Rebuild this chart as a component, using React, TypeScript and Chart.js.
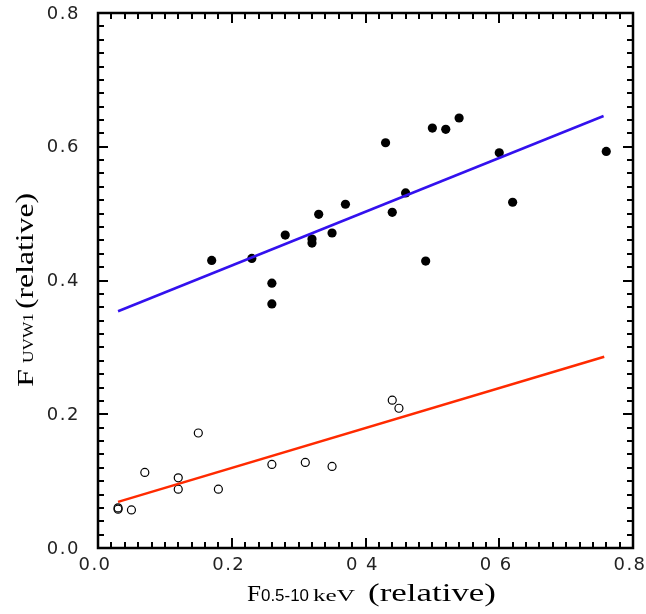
import React, { useEffect, useRef } from "react";
import { Chart, registerables } from "chart.js";

Chart.register(...registerables);

const filledX = [0.17, 0.23, 0.26, 0.26, 0.28, 0.32, 0.32, 0.33, 0.35, 0.37, 0.43, 0.44, 0.46, 0.49, 0.5, 0.52, 0.54, 0.6, 0.62, 0.76];
const filledY = [0.43, 0.433, 0.396, 0.365, 0.468, 0.462, 0.456, 0.499, 0.471, 0.514, 0.606, 0.502, 0.531, 0.429, 0.628, 0.626, 0.643, 0.591, 0.517, 0.593];

const openX = [0.03, 0.03, 0.05, 0.07, 0.12, 0.12, 0.15, 0.18, 0.26, 0.31, 0.35, 0.44, 0.45];
const openY = [0.06, 0.058, 0.057, 0.113, 0.105, 0.088, 0.172, 0.088, 0.125, 0.128, 0.122, 0.221, 0.209];

const blueLineX = [0.03, 0.756];
const blueLineY = [0.354, 0.646];
const redLineX = [0.03, 0.757];
const redLineY = [0.069, 0.286];

const xTickValues = [0, 0.2, 0.4, 0.6, 0.8];
const xTickLabels = ["0.0", "0.2", "0 4", "0 6", "0.8"];
const yTickValues = [0, 0.2, 0.4, 0.6, 0.8];
const yTickLabels = ["0.0", "0.2", "0.4", "0.6", "0.8"];
const minorStep = 0.02;

const pts = (xs: number[], ys: number[]) => xs.map((x, i) => ({ x, y: ys[i] }));

function drawStretched(ctx: CanvasRenderingContext2D, text: string, x: number, y: number, width: number, font: string) {
  ctx.font = font;
  const w = ctx.measureText(text).width;
  ctx.save();
  ctx.translate(x, y);
  ctx.scale(width / w, 1);
  ctx.textAlign = "left";
  ctx.textBaseline = "alphabetic";
  ctx.fillText(text, 0, 0);
  ctx.restore();
}

const axesPlugin = {
  id: "customAxes",
  afterDraw(chart: any) {
    const ctx: CanvasRenderingContext2D = chart.ctx;
    const xs = chart.scales.x;
    const ys = chart.scales.y;
    const { left, right, top, bottom } = chart.chartArea;
    ctx.save();
    ctx.strokeStyle = "#000";
    // ticks
    ctx.lineWidth = 2;
    const n = Math.round(0.8 / minorStep);
    for (let i = 1; i < n; i++) {
      const v = i * minorStep;
      const major = i % 10 === 0;
      const len = major ? 10 : 6;
      const px = Math.round(xs.getPixelForValue(v));
      const py = Math.round(ys.getPixelForValue(v));
      ctx.beginPath();
      ctx.moveTo(px, bottom);
      ctx.lineTo(px, bottom - len);
      ctx.moveTo(px, top);
      ctx.lineTo(px, top + len);
      ctx.moveTo(left, py);
      ctx.lineTo(left + len, py);
      ctx.moveTo(right, py);
      ctx.lineTo(right - len, py);
      ctx.stroke();
    }
    // frame
    ctx.lineWidth = 2.5;
    ctx.strokeRect(left, top, right - left, bottom - top);

    // tick labels
    ctx.fillStyle = "#222";
    ctx.font = '18px "DejaVu Sans"';
    (ctx as any).letterSpacing = "1.5px";
    ctx.textAlign = "right";
    ctx.textBaseline = "middle";
    yTickValues.forEach((v, i) => {
      ctx.fillText(yTickLabels[i], left - 18, ys.getPixelForValue(v) + 1);
    });
    ctx.textAlign = "center";
    xTickValues.forEach((v, i) => {
      ctx.fillText(xTickLabels[i], xs.getPixelForValue(v) - 3, bottom + 17);
    });
    (ctx as any).letterSpacing = "0px";

    // x title
    ctx.fillStyle = "#000";
    drawStretched(ctx, "F", 247, 601, 14, '24px "Liberation Serif"');
    drawStretched(ctx, "0.5-10", 261, 601, 48, '17px "Liberation Sans"');
    drawStretched(ctx, "keV", 313, 601, 42, '17px "Liberation Serif"');
    drawStretched(ctx, "(relative)", 368, 601, 128, '26px "Liberation Serif"');

    // y title
    ctx.save();
    ctx.translate(33, 0);
    ctx.rotate(-Math.PI / 2);
    drawStretched(ctx, "F", -387, 0, 18, '24px "Liberation Serif"');
    drawStretched(ctx, "UVW1", -363, 0, 50, '14px "Liberation Serif"');
    drawStretched(ctx, "(relative)", -309, 0, 116, '26px "Liberation Serif"');
    ctx.restore();

    ctx.restore();
  },
};

export default function App() {
  const ref = useRef<HTMLCanvasElement>(null);
  useEffect(() => {
    if (!ref.current) return;
    const chart = new Chart(ref.current, {
      type: "scatter",
      data: {
        datasets: [
          {
            type: "line",
            data: pts(blueLineX, blueLineY),
            borderColor: "#3311ee",
            borderWidth: 2.5,
            pointRadius: 0,
            fill: false,
          } as any,
          {
            type: "line",
            data: pts(redLineX, redLineY),
            borderColor: "#ff2a00",
            borderWidth: 2.5,
            pointRadius: 0,
            fill: false,
          } as any,
          {
            data: pts(filledX, filledY),
            backgroundColor: "#000",
            borderColor: "#000",
            borderWidth: 0,
            pointRadius: 4.6,
          },
          {
            data: pts(openX, openY),
            backgroundColor: "rgba(255,255,255,0)",
            borderColor: "#000",
            borderWidth: 1.2,
            pointRadius: 4,
          },
        ],
      },
      options: {
        animation: false,
        responsive: false,
        devicePixelRatio: 1,
        layout: { padding: { left: 98, right: 13, top: 13, bottom: 66 } },
        plugins: { legend: { display: false }, tooltip: { enabled: false } },
        scales: {
          x: { type: "linear", min: 0, max: 0.8, display: false },
          y: { type: "linear", min: 0, max: 0.8, display: false },
        },
      },
      plugins: [axesPlugin],
    });
    return () => chart.destroy();
  }, []);
  return (
    <div style={{ position: "absolute", left: 0, top: 0, width: 646, height: 614, background: "#fff" }}>
      <canvas ref={ref} width={646} height={614} />
    </div>
  );
}
